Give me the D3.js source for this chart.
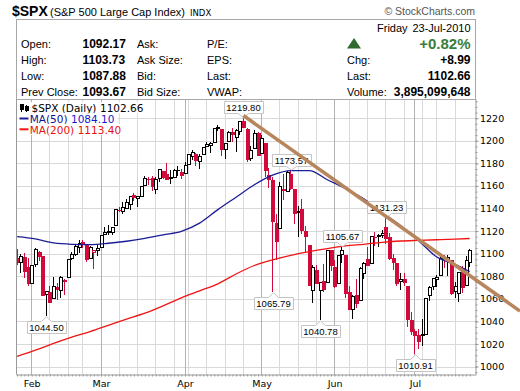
<!DOCTYPE html>
<html>
<head>
<meta charset="utf-8">
<script src="https://cdn.jsdelivr.net/npm/d3@7"></script>
<style>
  body { margin: 0; background: #fff; }
  svg { display: block; }
  text { font-family: "Liberation Sans", Arial, sans-serif; }
</style>
</head>
<body>
<svg id="chart" width="520" height="391"></svg>
<script>
// Daily candles, $SPX, 26-Jan-2010 .. 23-Jul-2010
const dates = [
  "2010-01-26","2010-01-27","2010-01-28","2010-01-29",
  "2010-02-01","2010-02-02","2010-02-03","2010-02-04","2010-02-05",
  "2010-02-08","2010-02-09","2010-02-10","2010-02-11","2010-02-12",
  "2010-02-16","2010-02-17","2010-02-18","2010-02-19",
  "2010-02-22","2010-02-23","2010-02-24","2010-02-25","2010-02-26",
  "2010-03-01","2010-03-02","2010-03-03","2010-03-04","2010-03-05",
  "2010-03-08","2010-03-09","2010-03-10","2010-03-11","2010-03-12",
  "2010-03-15","2010-03-16","2010-03-17","2010-03-18","2010-03-19",
  "2010-03-22","2010-03-23","2010-03-24","2010-03-25","2010-03-26",
  "2010-03-29","2010-03-30","2010-03-31","2010-04-01",
  "2010-04-05","2010-04-06","2010-04-07","2010-04-08","2010-04-09",
  "2010-04-12","2010-04-13","2010-04-14","2010-04-15","2010-04-16",
  "2010-04-19","2010-04-20","2010-04-21","2010-04-22","2010-04-23",
  "2010-04-26","2010-04-27","2010-04-28","2010-04-29","2010-04-30",
  "2010-05-03","2010-05-04","2010-05-05","2010-05-06","2010-05-07",
  "2010-05-10","2010-05-11","2010-05-12","2010-05-13","2010-05-14",
  "2010-05-17","2010-05-18","2010-05-19","2010-05-20","2010-05-21",
  "2010-05-24","2010-05-25","2010-05-26","2010-05-27","2010-05-28",
  "2010-06-01","2010-06-02","2010-06-03","2010-06-04",
  "2010-06-07","2010-06-08","2010-06-09","2010-06-10","2010-06-11",
  "2010-06-14","2010-06-15","2010-06-16","2010-06-17","2010-06-18",
  "2010-06-21","2010-06-22","2010-06-23","2010-06-24","2010-06-25",
  "2010-06-28","2010-06-29","2010-06-30","2010-07-01","2010-07-02",
  "2010-07-06","2010-07-07","2010-07-08","2010-07-09",
  "2010-07-12","2010-07-13","2010-07-14","2010-07-15","2010-07-16",
  "2010-07-19","2010-07-20","2010-07-21","2010-07-22","2010-07-23"
];
const opens = [
  1095.80,1091.94,1096.93,1087.61,
  1073.89,1090.05,1100.67,1097.25,1064.12,
  1065.51,1060.06,1069.68,1067.10,1075.95,
  1079.13,1096.14,1099.03,1105.49,
  1110.00,1107.49,1095.89,1101.24,1103.10,
  1105.36,1117.01,1119.36,1119.12,1125.12,
  1138.40,1137.56,1140.22,1143.96,1151.71,
  1148.53,1150.83,1159.94,1166.13,1166.68,
  1157.25,1166.47,1172.70,1170.03,1167.58,
  1167.71,1173.75,1171.75,1171.23,
  1178.71,1186.01,1188.23,1181.75,1187.47,
  1194.94,1195.94,1198.69,1210.77,1210.17,
  1192.06,1199.04,1207.16,1202.52,1207.87,
  1217.07,1209.92,1184.59,1193.30,1206.77,
  1188.58,1197.50,1169.24,1164.38,1127.04,
  1122.27,1156.39,1155.43,1170.04,1157.19,
  1136.52,1138.78,1119.57,1107.34,1067.26,
  1084.78,1067.42,1075.51,1074.27,1102.59,
  1087.30,1073.89,1098.82,1098.43,
  1065.84,1050.81,1062.75,1058.77,1082.65,
  1095.00,1091.21,1114.02,1115.98,1116.16,
  1122.79,1113.90,1095.57,1090.93,1075.10,
  1077.50,1071.10,1040.56,1031.10,1027.65,
  1028.09,1028.54,1062.92,1070.50,
  1077.23,1080.65,1095.61,1094.46,1093.85,
  1066.85,1064.53,1086.67,1072.14,1092.17
];
const highs = [
  1103.69,1099.51,1100.22,1096.45,
  1089.38,1104.73,1102.72,1097.25,1067.13,
  1071.20,1079.28,1073.67,1080.04,1077.81,
  1095.67,1101.03,1108.24,1112.42,
  1112.29,1108.58,1106.42,1103.50,1107.24,
  1116.11,1123.46,1125.64,1123.73,1139.38,
  1141.05,1145.37,1148.26,1150.24,1153.41,
  1150.98,1160.28,1169.20,1167.77,1169.20,
  1167.82,1174.72,1173.04,1180.69,1173.93,
  1174.85,1177.83,1174.56,1181.43,
  1187.73,1191.80,1189.60,1188.55,1194.66,
  1199.20,1199.04,1210.65,1213.92,1210.17,
  1197.87,1208.58,1210.99,1210.27,1217.28,
  1219.80,1211.38,1195.05,1209.36,1207.99,
  1205.13,1197.50,1175.95,1167.58,1135.13,
  1163.85,1170.48,1172.87,1173.57,1157.19,
  1141.88,1148.66,1124.27,1107.34,1090.16,
  1089.95,1074.75,1090.75,1103.52,1102.59,
  1094.77,1098.42,1105.67,1098.43,
  1071.36,1063.15,1077.74,1087.85,1092.25,
  1105.91,1115.59,1118.74,1117.72,1121.01,
  1131.23,1118.50,1099.64,1090.93,1083.11,
  1082.60,1071.10,1048.08,1033.58,1032.95,
  1042.50,1060.89,1071.25,1078.16,
  1080.78,1099.46,1099.08,1098.66,1093.85,
  1074.70,1083.94,1088.96,1097.50,1103.73
];
const lows = [
  1089.86,1083.11,1078.46,1071.59,
  1073.89,1087.96,1093.88,1062.78,1044.50,
  1056.51,1060.06,1059.34,1060.59,1062.97,
  1079.13,1094.72,1097.48,1100.80,
  1105.38,1092.18,1095.50,1086.02,1097.56,
  1105.36,1116.51,1116.58,1116.66,1125.12,
  1136.77,1134.90,1140.09,1138.99,1146.97,
  1141.45,1150.35,1159.94,1161.16,1155.33,
  1152.88,1163.83,1166.01,1165.09,1161.48,
  1167.71,1168.92,1165.77,1170.69,
  1178.71,1182.77,1177.25,1175.12,1187.15,
  1194.71,1188.82,1198.69,1208.50,1186.77,
  1183.68,1199.04,1198.85,1190.19,1205.10,
  1211.07,1181.62,1181.81,1193.30,1186.32,
  1188.58,1168.12,1158.15,1065.79,1094.15,
  1122.27,1147.71,1155.43,1156.14,1126.14,
  1114.96,1117.20,1100.66,1071.58,1055.90,
  1072.70,1040.78,1065.59,1074.27,1084.78,
  1069.89,1072.94,1091.81,1060.50,
  1049.86,1042.17,1052.25,1058.77,1077.12,
  1089.03,1091.21,1107.13,1105.87,1113.93,
  1108.24,1094.18,1085.31,1071.60,1067.89,
  1071.45,1035.18,1028.33,1010.91,1015.93,
  1018.35,1028.54,1058.24,1068.10,
  1070.45,1080.65,1087.68,1080.53,1063.32,
  1061.11,1056.88,1065.25,1072.14,1087.88
];
const closes = [
  1092.17,1097.50,1084.53,1073.87,
  1089.19,1103.32,1097.28,1063.11,1066.19,
  1056.74,1070.52,1068.13,1078.47,1075.51,
  1094.87,1099.51,1106.75,1109.17,
  1108.01,1094.60,1105.24,1102.94,1104.49,
  1115.71,1118.31,1118.79,1122.97,1138.70,
  1138.50,1140.45,1145.61,1150.24,1149.99,
  1150.51,1159.46,1166.21,1165.83,1159.90,
  1165.81,1174.17,1167.72,1165.73,1166.59,
  1173.22,1173.27,1169.43,1178.10,
  1187.44,1189.44,1182.45,1186.44,1194.37,
  1196.48,1197.30,1210.65,1211.67,1192.13,
  1197.52,1207.17,1205.94,1208.67,1217.28,
  1212.05,1183.71,1191.36,1206.78,1186.69,
  1202.26,1173.60,1165.87,1128.15,1110.88,
  1159.73,1155.79,1171.67,1157.44,1135.68,
  1136.94,1120.80,1115.05,1071.59,1087.69,
  1073.65,1074.03,1067.95,1103.06,1089.41,
  1070.71,1098.38,1102.83,1064.88,
  1050.47,1062.00,1055.69,1086.84,1091.60,
  1089.63,1115.23,1114.61,1116.04,1117.51,
  1113.20,1095.31,1092.04,1073.69,1076.76,
  1074.57,1041.24,1030.71,1027.37,1022.58,
  1028.06,1060.27,1070.25,1077.96,
  1078.75,1095.34,1095.17,1096.48,1064.88,
  1071.25,1083.48,1069.59,1093.67,1102.66
];
const prevClose = 1096.78; // close of 25-Jan, for the first candle's colour

// moving averages, one value per week
const maDates = [
  "2010-01-26","2010-02-02","2010-02-09","2010-02-17","2010-02-24","2010-03-03",
  "2010-03-10","2010-03-17","2010-03-24","2010-03-31","2010-04-08","2010-04-15",
  "2010-04-22","2010-04-29","2010-05-06","2010-05-13","2010-05-20","2010-05-27",
  "2010-06-04","2010-06-11","2010-06-18","2010-06-25","2010-07-02","2010-07-12",
  "2010-07-19","2010-07-23"
];
const ma50 = [
  1115, 1113, 1109.5, 1108.3, 1108, 1109.2,
  1111, 1113.5, 1116.7, 1119.8, 1127, 1139,
  1150, 1161, 1169.5, 1173.5, 1173.5, 1165.5,
  1157.5, 1148.5, 1136.5, 1125, 1111.5, 1097,
  1090.5, 1084.1
];
const ma200 = [
  1009, 1014.5, 1020.5, 1026, 1031, 1036.5,
  1042, 1047.3, 1053.8, 1060.8, 1067, 1073.3,
  1082, 1089.5, 1094.5, 1098.5, 1101.8, 1104.5,
  1106.8, 1108.3, 1110, 1111.2, 1111.8, 1112.3,
  1112.8, 1113.4
];

// annotated highs / lows
const calloutDates = ["2010-02-05","2010-04-26","2010-05-06","2010-05-13","2010-05-25","2010-06-03","2010-06-21","2010-07-01"];
const calloutValues = [1044.50, 1219.80, 1065.79, 1173.57, 1040.78, 1105.67, 1131.23, 1010.91];
const calloutSides = ["below","above","below","above","below","above","above","below"];

// hand-drawn trend line (date, price)
const trendStart = ["2010-04-26", 1222.3];
const trendEnd = ["2010-07-23", 1080.6];

// axes
const yTicks = [1000, 1020, 1040, 1060, 1080, 1100, 1120, 1140, 1160, 1180, 1200, 1220];
const monthTicks = ["2010-02-01","2010-03-01","2010-04-01","2010-05-03","2010-06-01","2010-07-01"];
const monthLabels = ["Feb","Mar","Apr","May","Jun","Jul"];

// header
const quoteLabels = ["Open:", "High:", "Low:", "Prev Close:"];
const quoteValues = ["1092.17", "1103.73", "1087.88", "1093.67"];
const quoteCol2 = ["Ask:", "Ask Size:", "Bid:", "Bid Size:"];
const quoteCol3 = ["P/E:", "EPS:", "Last:", "VWAP:"];
const sideLabels = ["Chg:", "Last:", "Volume:"];
const sideValues = ["+8.99", "1102.66", "3,895,099,648"];

const svg = d3.select('#chart');
const W = 520;
const plot = { left: 16.5, right: 475.5, top: 99.5, bottom: 374.5 };

const candles = dates.map((d, i) => ({
  date: d, o: opens[i], h: highs[i], l: lows[i], c: closes[i],
  prev: i ? closes[i - 1] : prevClose
}));

let x = d3.scalePoint().domain(dates).range([17.1, 469.7]);
let y = d3.scaleLinear().domain([992.5, 1237]).range([375, 99]);
const px = d => Math.floor(x(d)) + 0.5;

// ---- header ----
svg.append('text').attr('x', 12).attr('y', 16)
  .style('font-weight', 'bold').style('font-size', '14px').text('$SPX');
svg.append('text').attr('x', 50).attr('y', 16)
  .style('font-size', '11px').text('(S&P 500 Large Cap Index)');
svg.append('text').attr('x', 190).attr('y', 16)
  .style('font-family', 'DejaVu Sans').style('font-size', '8.5px').text('INDX');
svg.append('text').attr('x', 475).attr('y', 15).attr('text-anchor', 'end')
  .style('font-size', '10.5px').attr('fill', '#555').text('\u00A9 StockCharts.com');

svg.append('rect')
  .attr('x', plot.left).attr('y', 19.5)
  .attr('width', plot.right - plot.left).attr('height', plot.top - 19.5)
  .attr('fill', '#fff').attr('stroke', '#a8a8a8');

const rowY = [48, 64, 80, 95.5];
quoteLabels.forEach((t, i) => {
  svg.append('text').attr('x', 21).attr('y', rowY[i]).style('font-size', '11px').text(t);
  svg.append('text').attr('x', 82.5).attr('y', rowY[i])
    .style('font-size', '12px').style('font-weight', 'bold').text(quoteValues[i]);
  svg.append('text').attr('x', 137).attr('y', rowY[i]).style('font-size', '11px').text(quoteCol2[i]);
  svg.append('text').attr('x', 207).attr('y', rowY[i]).style('font-size', '11px').text(quoteCol3[i]);
});

svg.append('text').attr('x', 377).attr('y', 32).style('font-size', '11px').text('Friday');
svg.append('text').attr('x', 470.5).attr('y', 32).attr('text-anchor', 'end')
  .style('font-size', '11px').text('23-Jul-2010');
svg.append('path').attr('d', 'M347,48.5L354,38L361,48.5Z').attr('fill', '#2f6b2f');
svg.append('text').attr('x', 470.5).attr('y', 49).attr('text-anchor', 'end')
  .style('font-size', '15px').style('font-weight', 'bold').attr('fill', '#3b7d3b').text('+0.82%');
sideLabels.forEach((t, i) => {
  svg.append('text').attr('x', 347).attr('y', rowY[i + 1]).style('font-size', '11px').text(t);
  svg.append('text').attr('x', 470.5).attr('y', rowY[i + 1]).attr('text-anchor', 'end')
    .style('font-size', '12px').style('font-weight', 'bold').text(sideValues[i]);
});

// ---- grid ----
const grid = svg.append('g').attr('shape-rendering', 'crispEdges');
grid.selectAll('.hgrid').data(yTicks).enter().append('line')
  .attr('x1', plot.left).attr('x2', plot.right)
  .attr('y1', d => Math.round(y(d)) + 0.5).attr('y2', d => Math.round(y(d)) + 0.5)
  .attr('stroke', '#d9d9d9');

const week = s => d3.timeMonday.floor(new Date(s + 'T12:00:00')).getTime();
const weekStarts = dates.filter((d, i) => i > 0 && week(d) !== week(dates[i - 1]));
grid.selectAll('.wgrid').data(weekStarts).enter().append('line')
  .attr('x1', px).attr('x2', px).attr('y1', plot.top).attr('y2', plot.bottom)
  .attr('stroke', '#dadada');
grid.selectAll('.mgrid').data(monthTicks).enter().append('line')
  .attr('x1', px).attr('x2', px).attr('y1', plot.top).attr('y2', plot.bottom)
  .attr('stroke', '#b2b2b2');

// ---- candles ----
const cg = svg.append('g').attr('shape-rendering', 'crispEdges');
candles.forEach(d => {
  const col = d.c >= d.prev ? '#000' : '#d20a3c';
  const hollow = d.c > d.o;
  const cx = px(d.date);
  cg.append('line').attr('x1', cx).attr('x2', cx)
    .attr('y1', y(d.h)).attr('y2', y(d.l)).attr('stroke', col);
  const top = y(Math.max(d.o, d.c)), bot = y(Math.min(d.o, d.c));
  cg.append('rect').attr('x', cx - 1.5).attr('y', top)
    .attr('width', 3).attr('height', Math.max(bot - top, 0.5))
    .attr('fill', hollow ? '#fff' : col).attr('stroke', col);
});

// ---- moving averages ----
const maLine = vals => d3.line()
  .x((d, i) => x(maDates[i])).y((d, i) => y(vals[i]))
  .curve(d3.curveMonotoneX)(vals);
svg.append('path').attr('d', maLine(ma200)).attr('fill', 'none')
  .attr('stroke', '#f01414').attr('stroke-width', 1.3);
svg.append('path').attr('d', maLine(ma50)).attr('fill', 'none')
  .attr('stroke', '#1c1c96').attr('stroke-width', 1.3);

// ---- axes ----
svg.append('g').attr('transform', `translate(${plot.right},0)`)
  .call(d3.axisRight(y).tickValues(d3.range(995, 1237, 5)).tickSize(2).tickSizeOuter(0).tickFormat(''))
  .call(g => g.selectAll('line,path').attr('stroke', '#999'));
svg.append('g').attr('transform', `translate(${plot.right},0)`)
  .call(d3.axisRight(y).tickValues(yTicks).tickSize(3).tickSizeOuter(0).tickPadding(1.5).tickFormat(d3.format('d')))
  .call(g => g.select('.domain').remove())
  .call(g => g.selectAll('line').attr('stroke', '#999'))
  .call(g => g.selectAll('text').style('font-family', 'DejaVu Sans').style('font-size', '9.5px').attr('fill', '#000'));

svg.append('g').attr('transform', `translate(0,${plot.bottom})`)
  .call(d3.axisBottom(x).tickValues(dates).tickSize(2).tickSizeOuter(0).tickFormat(''))
  .call(g => g.select('.domain').attr('d', `M${plot.left},0.5H${plot.right}`))
  .call(g => g.selectAll('line,path').attr('stroke', '#999'));
svg.append('g').attr('transform', `translate(0,${plot.bottom})`)
  .call(d3.axisBottom(x).tickValues(monthTicks).tickSize(0).tickPadding(5.5)
    .tickFormat((d, i) => monthLabels[i]))
  .call(g => g.select('.domain').remove())
  .call(g => g.selectAll('text').style('font-family', 'DejaVu Sans').style('font-size', '9.5px').attr('fill', '#000'));

svg.append('line').attr('x1', plot.left).attr('x2', plot.left)
  .attr('y1', plot.top).attr('y2', plot.bottom).attr('stroke', '#999');

// ---- legend ----
const leg = svg.append('g');
const legRows = [
  { y: 111.7, label: ['$SPX (Daily)', 31.5, '#000'], value: ['1102.66', '#000'] },
  { y: 122.7, label: ['MA(50)', 29.7, '#10108a'], value: ['1084.10', '#1a1ac8'], swatch: '#1c1c96' },
  { y: 133.5, label: ['MA(200)', 29.7, '#e81010'], value: ['1113.40', '#e81010'], swatch: '#f01414' }
];
legRows.forEach(r => {
  const bg = leg.append('rect').attr('fill', '#fff');
  const t = leg.append('text').attr('x', r.label[1]).attr('y', r.y).attr('fill', r.label[2])
    .style('font-family', 'DejaVu Sans').style('font-size', '10.5px').text(r.label[0]);
  const vx = r.label[1] + t.node().getComputedTextLength() + 3.5;
  const v = leg.append('text').attr('x', vx).attr('y', r.y).attr('fill', r.value[1])
    .style('font-family', 'DejaVu Sans').style('font-size', '10.5px').text(r.value[0]);
  const maxX = vx + v.node().getComputedTextLength();
  bg.attr('x', plot.left + 1).attr('y', r.y - 9.5).attr('width', maxX + 2 - plot.left).attr('height', 11);
  if (r.swatch) {
    leg.append('line').attr('x1', 19.5).attr('x2', 28.5).attr('y1', r.y - 4.2).attr('y2', r.y - 4.2)
      .attr('stroke', r.swatch).attr('stroke-width', 2);
  }
});
// little candle icon
const icon = leg.append('g').attr('shape-rendering', 'crispEdges');
[[21.5, 103.5, 111.5, 104.5, 5], [26.5, 104.5, 111.5, 106.5, 4]].forEach(c => {
  icon.append('line').attr('x1', c[0]).attr('x2', c[0]).attr('y1', c[1]).attr('y2', c[2]).attr('stroke', '#000');
  icon.append('rect').attr('x', c[0] - 1.5).attr('y', c[3]).attr('width', 3).attr('height', c[4])
    .attr('fill', '#000').attr('stroke', '#000');
});

// ---- callouts ----
const cl = svg.append('g');
calloutDates.forEach((d, i) => {
  const cx = Math.round(x(d)) + 0.5, vy = y(calloutValues[i]);
  const t = cl.append('text').style('font-size', '9.5px').attr('text-anchor', 'middle')
    .attr('x', cx).text(calloutValues[i].toFixed(2));
  const w = t.node().getComputedTextLength() + 5, h = 12;
  const l = Math.round(cx - w / 2) + 0.5, r = l + Math.round(w);
  let path;
  if (calloutSides[i] === 'above') {
    const b = Math.round(vy - 5) + 0.5, tp = b - h;
    path = `M${l},${tp}H${r}V${b}H${cx + 5}L${cx},${vy - 0.5}L${cx - 5},${b}H${l}Z`;
    t.attr('y', b - 2.8);
  } else {
    const tp = Math.round(vy + 5) + 0.5, b = tp + h;
    path = `M${l},${tp}H${cx - 5}L${cx},${vy + 0.5}L${cx + 5},${tp}H${r}V${b}H${l}Z`;
    t.attr('y', b - 2.8);
  }
  cl.insert('path', 'text').attr('d', path).attr('fill', '#fff').attr('stroke', '#c4c4c4');
});

// ---- trend line ----
const tx1 = x(trendStart[0]), ty1 = y(trendStart[1]);
const tx2 = x(trendEnd[0]), ty2 = y(trendEnd[1]);
const slope = (ty2 - ty1) / (tx2 - tx1);
svg.append('line')
  .attr('x1', tx1).attr('y1', ty1)
  .attr('x2', W).attr('y2', ty1 + slope * (W - tx1))
  .attr('stroke', '#b8865c').attr('stroke-width', 3.6);
</script>
</body>
</html>
